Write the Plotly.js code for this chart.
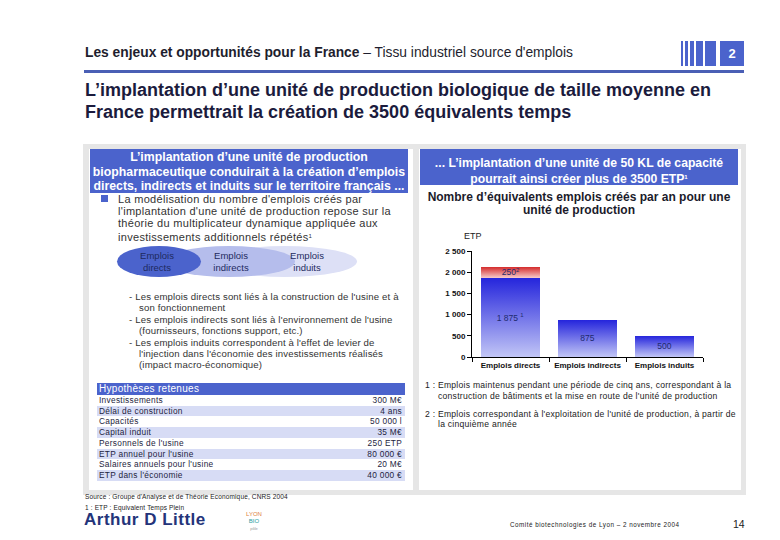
<!DOCTYPE html>
<html>
<head>
<meta charset="utf-8">
<script src="https://cdn.plot.ly/plotly-3.0.1.min.js"></script>
<style>
  html, body { margin: 0; padding: 0; background: #fff; }
  #page { position: relative; width: 780px; height: 540px; overflow: hidden; font-family: "Liberation Sans", Arial, sans-serif; color: #222; }
  .abs { position: absolute; }
  .blue { background: #4b63cc; }
  .hdr { color: #fff; font-weight: bold; text-align: center; }
  .dash { padding-left: 10px; text-indent: -10px; white-space: nowrap; }
  .fn { padding-left: 13px; text-indent: -13px; margin-bottom: 7px; }
  table { border-collapse: collapse; }
  #chart { position: absolute; left: 0; top: 0; width: 780px; height: 540px; }
</style>
</head>
<body>
<div id="page">
  <!-- header -->
  <div class="abs" style="left:85px; top:45px; font-size:13.8px; white-space:nowrap; color:#1e1e2e;"><b>Les enjeux et opportunités pour la France</b> – Tissu industriel source d'emplois</div>
  <div class="abs blue" style="left:681px; top:41px; width:2px; height:25px;"></div>
  <div class="abs blue" style="left:685px; top:41px; width:3px; height:25px;"></div>
  <div class="abs blue" style="left:690px; top:41px; width:4px; height:25px;"></div>
  <div class="abs blue" style="left:696px; top:41px; width:7px; height:25px;"></div>
  <div class="abs blue" style="left:705px; top:41px; width:11px; height:25px;"></div>
  <div class="abs blue" style="left:720px; top:41px; width:24px; height:25px; color:#fff; font-weight:bold; font-size:13px; text-align:center; line-height:25px;">2</div>
  <div class="abs" style="left:84px; top:70px; width:660px; height:3px; background:#4a5fb5;"></div>
  <div class="abs" style="left:85px; top:79px; font-size:18px; font-weight:bold; line-height:22px; color:#1b1b3d; white-space:nowrap;">L’implantation d’une unité de production biologique de taille moyenne en<br>France permettrait la création de 3500 équivalents temps</div>

  <!-- panels -->
  <div class="abs" style="left:83px; top:144px; width:663px; height:351px; background:#e6e6e6;"></div>
  <div class="abs" style="left:89px; top:149px; width:324px; height:341px; background:#fff;"></div>
  <div class="abs" style="left:419px; top:149px; width:322px; height:341px; background:#fff;"></div>

  <!-- left panel -->
  <div class="abs blue hdr" style="left:90px; top:149px; width:318px; height:44px; font-size:12.3px; line-height:14.5px; padding-top:1px; box-sizing:border-box; white-space:nowrap;">L’implantation d’une unité de production<br>biopharmaceutique conduirait à la création d’emplois<br>directs, indirects et induits sur le territoire français ...</div>
  <div class="abs" style="left:101px; top:195px; width:7px; height:7px; background:#4b63cc;"></div>
  <div class="abs" style="left:118px; top:193px; font-size:11px; line-height:12.2px; letter-spacing:0.3px; color:#333; white-space:nowrap;">La modélisation du nombre d'emplois créés par<br>l'implantation d'une unité de production repose sur la<br>théorie du multiplicateur dynamique appliquée aux<br>investissements additionnels répétés<span style="font-size:6px; vertical-align:3px;">1</span></div>

  <div class="abs" style="left:212px; top:246px; width:145px; height:31px; border-radius:50%; background:#dde0f6;"></div>
  <div class="abs" style="left:163px; top:246px; width:132px; height:31px; border-radius:50%; background:#b5bdec;"></div>
  <div class="abs" style="left:117px; top:246px; width:84px; height:31px; border-radius:50%; background:#4b63cc;"></div>
  <div class="abs" style="left:125px; top:250px; width:64px; text-align:center; font-size:9.5px; line-height:11.5px; color:#1e2a5e;">Emplois<br>directs</div>
  <div class="abs" style="left:196px; top:250px; width:70px; text-align:center; font-size:9.5px; line-height:11.5px; color:#1e2a5e;">Emplois<br>indirects</div>
  <div class="abs" style="left:274px; top:250px; width:66px; text-align:center; font-size:9.5px; line-height:11.5px; color:#1e2a5e;">Emplois<br>induits</div>

  <div class="abs" style="left:129px; top:291px; font-size:9.6px; line-height:11.4px; color:#333; letter-spacing:0.15px;">
    <div class="dash">- Les emplois directs sont liés à la construction de l'usine et à<br>son fonctionnement</div>
    <div class="dash">- Les emplois indirects sont liés à l'environnement de l'usine<br>(fournisseurs, fonctions support, etc.)</div>
    <div class="dash">- Les emplois induits correspondent à l'effet de levier de<br>l'injection dans l'économie des investissements réalisés<br>(impact macro-économique)</div>
  </div>

  <div class="abs" id="hypo" style="left:97px; top:383px; width:308px;"></div>

  <!-- right panel -->
  <div class="abs blue hdr" style="left:420px; top:149px; width:318px; height:36px; font-size:12.2px; line-height:14px; padding-top:7px; box-sizing:border-box; white-space:nowrap;">... L’implantation d’une unité de 50 KL de capacité<br>pourrait ainsi créer plus de 3500 ETP<span style="font-size:6px; vertical-align:4px;">1</span></div>
  <div class="abs" style="left:420px; top:191px; width:318px; text-align:center; font-size:12px; font-weight:bold; line-height:13px; color:#1b1b2b; white-space:nowrap;">Nombre d’équivalents emplois créés par an pour une<br>unité de production</div>

  <div class="abs" style="left:425px; top:380px; width:318px; font-size:8.6px; line-height:10.8px; color:#222; letter-spacing:0.25px;">
    <div class="fn">1 : Emplois maintenus pendant une période de cinq ans, correspondant à la construction de bâtiments et la mise en route de l'unité de production</div>
    <div class="fn">2 : Emplois correspondant à l'exploitation de l'unité de production, à partir de la cinquième année</div>
  </div>

  <!-- footer -->
  <div class="abs" style="left:85px; top:491px; font-size:6.5px; line-height:11px; color:#222; letter-spacing:0.15px;">Source : Groupe d'Analyse et de Théorie Economique, CNRS 2004<br>1 : ETP : Equivalent Temps Plein</div>
  <div class="abs" style="left:84px; top:510px; font-size:17px; font-weight:bold; color:#24347a; letter-spacing:0.5px;">Arthur D Little</div>
  <div class="abs" style="left:240px; top:511px; width:28px; text-align:center; font-size:6px; line-height:7px; color:#e0803a;">LYON<br><span style="color:#2aa0a0;">BIO</span><br><span style="color:#999;font-size:4px;">pôle</span></div>
  <div class="abs" style="left:510px; top:521px; font-size:6.3px; color:#222; white-space:nowrap; letter-spacing:0.5px;">Comité biotechnologies de Lyon – 2 novembre 2004</div>
  <div class="abs" style="left:733px; top:518px; font-size:10.5px; color:#222;">14</div>

  <div id="chart"></div>
</div>

<script>
// ---- data ----
const categories = ['Emplois directs', 'Emplois indirects', 'Emplois induits'];
const baseJobs = [1875, 875, 500];
const baseLabels = ['1 875 <sup>1</sup>', '875', '500'];
const operationCategories = ['Emplois directs'];
const operationJobs = [250];
const operationLabels = ['250<sup>2</sup>'];
const yTicks = [0, 500, 1000, 1500, 2000, 2500];
const yTickLabels = ['0', '500', '1 000', '1 500', '2 000', '2 500'];
const hypoLabels = ['Investissements', 'Délai de construction', 'Capacités', 'Capital induit', 'Personnels de l\'usine', 'ETP annuel pour l\'usine', 'Salaires annuels pour l\'usine', 'ETP dans l\'économie'];
const hypoValues = ['300 M€', '4 ans', '50 000 l', '35 M€', '250 ETP', '80 000 €', '20 M€', '40 000 €'];

// ---- hypotheses table ----
(function () {
  let html = '<table style="width:308px; font-size:8.3px; color:#1e1e3e; letter-spacing:0.3px;">';
  html += '<tr><td colspan="2" style="background:#4b63cc; color:#fff; font-size:10px; height:12px; padding:0 2px; line-height:12px;">Hypothèses retenues</td></tr>';
  hypoLabels.forEach(function (lab, i) {
    const bg = (i % 2 === 1) ? '#d7dcf5' : '#ffffff';
    html += '<tr style="background:' + bg + '; height:10.7px; line-height:10.7px;"><td style="padding:0 2px;">' + lab + '</td><td style="text-align:right; padding:0 3px;">' + hypoValues[i] + '</td></tr>';
  });
  html += '</table>';
  document.getElementById('hypo').innerHTML = html;
})();

// ---- chart ----
const textFont = { family: 'Liberation Sans, Arial, sans-serif', size: 8.5, color: '#1e2a6e' };
const traces = [
  {
    type: 'bar', x: categories, y: baseJobs, text: baseLabels,
    textposition: 'inside', insidetextanchor: 'middle', constraintext: 'none',
    insidetextfont: textFont, textfont: textFont,
    marker: { color: '#5560e0', line: { width: 0 } }, hoverinfo: 'none', showlegend: false
  },
  {
    type: 'bar', x: operationCategories, y: operationJobs, text: operationLabels,
    textposition: 'inside', insidetextanchor: 'middle', constraintext: 'none',
    insidetextfont: textFont, textfont: textFont,
    marker: { color: '#e06060', line: { width: 0 } }, hoverinfo: 'none', showlegend: false
  }
];
const layout = {
  width: 780, height: 540,
  margin: { l: 472, r: 77, t: 251, b: 183, pad: 0 },
  paper_bgcolor: 'rgba(0,0,0,0)', plot_bgcolor: 'rgba(0,0,0,0)',
  barmode: 'stack', bargap: 0.234,
  showlegend: false,
  font: { family: 'Liberation Sans, Arial, sans-serif', color: '#111' },
  xaxis: {
    type: 'category', range: [-0.5, 2.5], showline: true, linecolor: '#000', linewidth: 1,
    ticks: 'outside', tickson: 'boundaries', ticklen: 4, tickcolor: '#000', tickangle: 0,
    showgrid: false, zeroline: false,
    tickfont: { size: 8, family: 'Liberation Sans, Arial, sans-serif', color: '#111', weight: 'bold' }
  },
  yaxis: {
    range: [0, 2500], tickvals: yTicks, ticktext: yTickLabels,
    showline: true, linecolor: '#000', linewidth: 1, ticks: 'outside', ticklen: 4, tickcolor: '#000',
    showgrid: false, zeroline: false,
    tickfont: { size: 8, family: 'Liberation Sans, Arial, sans-serif', color: '#111', weight: 'bold' }
  },
  annotations: [
    { text: 'ETP', xref: 'paper', yref: 'paper', x: -0.045, y: 1.14, xanchor: 'left', yanchor: 'middle',
      showarrow: false, font: { size: 9, family: 'Liberation Sans, Arial, sans-serif', color: '#222' } }
  ]
};

Plotly.newPlot('chart', traces, layout, { staticPlot: true, displayModeBar: false }).then(function (gd) {
  const NS = 'http://www.w3.org/2000/svg';
  const svg = gd.querySelector('.main-svg');
  let defs = svg.querySelector('defs');
  if (!defs) { defs = document.createElementNS(NS, 'defs'); svg.insertBefore(defs, svg.firstChild); }
  function grad(id, top, bottom) {
    const g = document.createElementNS(NS, 'linearGradient');
    g.setAttribute('id', id);
    g.setAttribute('x1', '0'); g.setAttribute('y1', '0'); g.setAttribute('x2', '0'); g.setAttribute('y2', '1');
    const s1 = document.createElementNS(NS, 'stop'); s1.setAttribute('offset', '0'); s1.setAttribute('stop-color', top);
    const s2 = document.createElementNS(NS, 'stop'); s2.setAttribute('offset', '1'); s2.setAttribute('stop-color', bottom);
    g.appendChild(s1); g.appendChild(s2); defs.appendChild(g);
  }
  grad('gradBlue', '#2424dc', '#c2c6f6');
  grad('gradRed', '#d42a2a', '#f4c4c4');
  const barTraces = gd.querySelectorAll('.barlayer .trace');
  barTraces.forEach(function (t, i) {
    t.querySelectorAll('.point path').forEach(function (p) {
      p.style.fill = (i === 0) ? 'url(#gradBlue)' : 'url(#gradRed)';
    });
  });
});
</script>
</body>
</html>
